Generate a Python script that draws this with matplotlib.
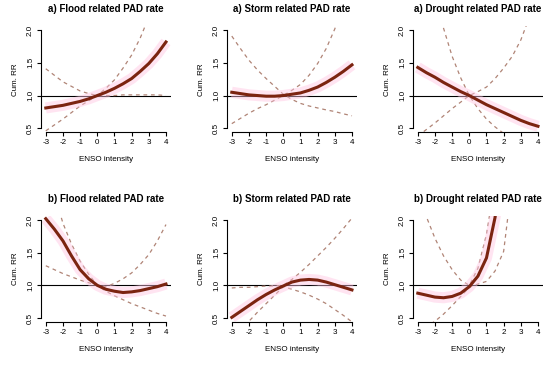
import numpy as np
import matplotlib.pyplot as plt

# --- data ---
enso = [-3, -2.5, -2, -1.5, -1, -0.5, 0, 0.5, 1, 1.5, 2, 2.5, 3, 3.5, 4]

titles = ['a) Flood related PAD rate', 'a) Storm related PAD rate', 'a) Drought related PAD rate',
          'b) Flood related PAD rate', 'b) Storm related PAD rate', 'b) Drought related PAD rate']

rr_flood_a = [0.81, 0.83, 0.85, 0.88, 0.91, 0.95, 1.0, 1.05, 1.11, 1.18, 1.26, 1.37, 1.49, 1.64, 1.82]
ci1_flood_a = [1.41, 1.31, 1.21, 1.14, 1.07, 1.03, 1.0, 1.0, 1.0, 1.01, 1.01, 1.01, 1.01, 1.01, 1.0]
ci2_flood_a = [0.46, 0.55, 0.64, 0.74, 0.84, 0.92, 1.0, 1.11, 1.24, 1.42, 1.62, 1.88, 2.2, 2.6, 3.1]

rr_storm_a = [1.05, 1.03, 1.01, 1.0, 0.99, 0.99, 1.0, 1.02, 1.04, 1.08, 1.13, 1.2, 1.28, 1.37, 1.47]
ci1_storm_a = [1.91, 1.72, 1.54, 1.39, 1.26, 1.14, 1.02, 0.94, 0.88, 0.84, 0.81, 0.78, 0.755, 0.72, 0.69]
ci2_storm_a = [0.57, 0.65, 0.73, 0.80, 0.86, 0.93, 1.0, 1.08, 1.17, 1.31, 1.49, 1.72, 2.02, 2.4, 2.85]

rr_drought_a = [1.43, 1.35, 1.28, 1.20, 1.13, 1.06, 1.0, 0.93, 0.86, 0.80, 0.74, 0.68, 0.62, 0.57, 0.53]
ci1_drought_a = [3.8, 3.1, 2.5, 2.03, 1.6, 1.27, 1.0, 0.8, 0.64, 0.52, 0.42, 0.35, 0.29, 0.24, 0.2]
ci2_drought_a = [0.38, 0.48, 0.58, 0.69, 0.80, 0.90, 1.0, 1.06, 1.13, 1.26, 1.42, 1.6, 1.85, 2.2, 2.6]

rr_flood_b = [2.02, 1.86, 1.68, 1.45, 1.24, 1.10, 1.0, 0.94, 0.91, 0.89, 0.9, 0.92, 0.95, 0.98, 1.02]
ci1_flood_b = [2.8, 2.4, 1.95, 1.63, 1.37, 1.17, 1.0, 0.98, 1.03, 1.1, 1.19, 1.32, 1.47, 1.68, 1.93]
ci2_flood_b = [1.30, 1.24, 1.18, 1.13, 1.08, 1.04, 1.0, 0.91, 0.84, 0.78, 0.72, 0.67, 0.62, 0.57, 0.53]

rr_storm_b = [0.51, 0.60, 0.69, 0.78, 0.86, 0.93, 0.99, 1.05, 1.08, 1.09, 1.08, 1.05, 1.01, 0.97, 0.93]
ci1_storm_b = [0.96, 0.97, 0.97, 0.98, 0.99, 0.99, 1.0, 1.09, 1.20, 1.32, 1.45, 1.58, 1.72, 1.87, 2.03]
ci2_storm_b = [0.26, 0.35, 0.45, 0.59, 0.72, 0.85, 0.98, 0.94, 0.90, 0.85, 0.79, 0.72, 0.63, 0.54, 0.44]

rr_drought_b = [0.88, 0.85, 0.82, 0.81, 0.83, 0.88, 0.98, 1.14, 1.42, 2.04, 3.0, 4.5, 6.5, 9.0, 12.0]
ci1_drought_b = [2.45, 2.05, 1.72, 1.45, 1.24, 1.08, 1.0, 1.26, 1.78, 2.6, 3.6, 5.0, 7.0, 9.5, 13.0]
ci2_drought_b = [0.30, 0.37, 0.45, 0.56, 0.69, 0.83, 0.97, 1.02, 1.06, 1.22, 1.52, 2.6, 3.4, 4.5, 6.0]

curves = [(rr_flood_a, ci1_flood_a, ci2_flood_a),
          (rr_storm_a, ci1_storm_a, ci2_storm_a),
          (rr_drought_a, ci1_drought_a, ci2_drought_a),
          (rr_flood_b, ci1_flood_b, ci2_flood_b),
          (rr_storm_b, ci1_storm_b, ci2_storm_b),
          (rr_drought_b, ci1_drought_b, ci2_drought_b)]

xticks = [-3, -2, -1, 0, 1, 2, 3, 4]
yticks = [0.5, 1.0, 1.5, 2.0]


def main():
    plt.rcParams['font.family'] = ['Liberation Sans', 'DejaVu Sans']
    fig = plt.figure(figsize=(5.5, 3.65), dpi=100)

    lefts = [0.0745, 0.4127, 0.7509]
    bottoms = [0.638, 0.118]
    w, h = 0.236, 0.290

    for i, (rr, c1, c2) in enumerate(curves):
        ax = fig.add_axes([lefts[i % 3], bottoms[i // 3], w, h])
        ax.set_xlim(-3.28, 4.28)
        ax.set_ylim(0.44, 2.06)

        ax.axhline(1.0, color='black', lw=0.8, zorder=1)
        ax.plot(enso, c1, ls=(0, (3, 3)), color='#b08476', lw=0.9, zorder=2)
        ax.plot(enso, c2, ls=(0, (3, 3)), color='#b08476', lw=0.9, zorder=2)
        ax.plot(enso, rr, color='#ffc4e2', lw=8, alpha=0.45, zorder=2, solid_capstyle='butt')
        ax.plot(enso, rr, color='#7b2410', lw=2.2, zorder=3)

        # R-like axes: only left/bottom lines, trimmed to tick range
        for s in ['top', 'right']:
            ax.spines[s].set_visible(False)
        ax.spines['left'].set_bounds(0.5, 2.0)
        ax.spines['bottom'].set_bounds(-3, 4)
        ax.spines['left'].set_linewidth(0.8)
        ax.spines['bottom'].set_linewidth(0.8)

        ax.set_xticks(xticks)
        ax.set_xticklabels([str(t) for t in xticks])
        ax.set_yticks(yticks)
        ax.set_yticklabels(['0.5', '1.0', '1.5', '2.0'], rotation=90, va='center')
        ax.tick_params(length=3, width=0.8, labelsize=5.8, pad=2)

        ax.set_xlabel('ENSO intensity', fontsize=5.8, labelpad=7)
        ax.set_ylabel('Cum. RR', fontsize=5.8, labelpad=6)
        ax.set_title(titles[i], fontsize=7, fontweight='bold', pad=10)

    plt.savefig('out.png', dpi=100)


if __name__ == "__main__":
    main()
